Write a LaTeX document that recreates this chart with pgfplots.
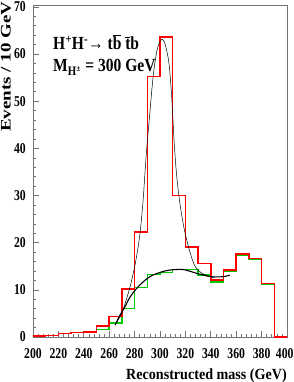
\documentclass[border=0pt]{standalone}
\usepackage{fontspec}
\setmainfont{Liberation Serif}
\newfontfamily\tickfont{Liberation Serif}[FakeStretch=0.78]
\newfontfamily\xlabfont{Liberation Serif}[FakeStretch=0.91]
\newfontfamily\ylabfont{Liberation Serif}[FakeStretch=1.3]
\newfontfamily\txtfont{Liberation Serif}[FakeStretch=0.84]
\usepackage{pgfplots}
\pgfplotsset{compat=1.18}
\definecolor{hgreen}{RGB}{0,200,0}
\definecolor{hred}{RGB}{255,0,0}
\begin{document}
\begin{tikzpicture}
\begin{axis}[name=ax, scale only axis, width=254pt, height=331.5pt,
  xmin=200, xmax=400, ymin=0, ymax=70.3, clip=false,
  xtick={200,220,240,260,280,300,320,340,360,380,400},
  xticklabels={200,220,240,260,280,300,320,340,360,380,{\hspace*{-4.5pt}400}},
  ytick={0,10,...,70},
  minor x tick num=4, minor y tick num=4,
  tick pos=left, tick align=inside,
  major tick length=6pt, minor tick length=3pt,
  axis line style={black!55, line width=0.8pt},
  tick style={black!55, line width=0.6pt},
  /pgf/number format/assume math mode=true,
  ticklabel style={font=\tickfont\bfseries\fontsize{15pt}{15pt}\selectfont},
  xticklabel style={anchor=north, inner sep=0pt, yshift=-11pt},
  yticklabel style={anchor=east, inner sep=0pt, xshift=-7pt},
]
% green histogram
\addplot[const plot mark left, draw=hgreen, line width=1.5pt] coordinates {
(250,1.6)(260,3.0)(270,6.0)(280,10.5)(290,13.3)(300,13.7)(310,14.3)(320,14.3)
(330,13.1)(340,11.7)(350,13.9)(360,17.3)(370,16.4)(380,11.1)(390,0)};
% red histogram
\addplot[const plot mark left, draw=hred, line width=1.5pt] coordinates {
(200,0.2)(210,0.3)(220,0.7)(230,1.0)(240,1.1)(250,2.3)(260,4.3)(270,10.2)
(280,22.3)(290,55.2)(300,63.6)(310,30.0)(320,19.1)(330,15.6)(340,12.1)
(350,14.2)(360,17.6)(370,16.6)(380,11.3)(390,0)(400,0)};
% signal + background fit
\addplot[smooth, black, line width=0.5pt] coordinates {
(264.6,2.5)(267,3.6)(269.8,5.0)(273,7.5)(276.4,10.6)(279.5,14.2)(282,17.8)
(284.3,22)(286.7,29)(289,38)(291.5,46)(294.7,55.5)(297.5,60.6)(300,62.7)
(301.8,63.1)(303.5,62.5)(305.5,60.5)(307.3,57.5)(309.2,51)(311,42)(312.7,35.5)
(314.4,31)(316.7,26.5)(319,23)(321.3,20.3)(323.6,18)(325.6,16.3)(327.6,15)
(330,14.2)(333,13.5)(336,13.1)(339.4,12.8)(343,12.6)};
% background fit
\addplot[smooth, black, line width=1.1pt] coordinates {
(264.6,2.5)(268,4.4)(272.4,6.4)(276,8.3)(280.3,9.9)(286,11.5)(292.1,12.8)
(300,13.7)(307.9,14.2)(318.3,14.3)(328.9,13.5)(336,13.0)(342,12.75)
(349.9,12.8)(355,13.1)};
\end{axis}
\node[rotate=90, anchor=base west, inner sep=0pt,
  font=\ylabfont\bfseries\fontsize{14.6pt}{14.6pt}\selectfont]
  at ([xshift=-22.3pt,yshift=205pt]ax.south west) {Events / 10 GeV};
\node[anchor=base east, inner sep=0pt,
  font=\xlabfont\bfseries\fontsize{15.5pt}{15.5pt}\selectfont]
  at ([yshift=-42.5pt]ax.south east) {Reconstructed mass (GeV)};
\node[anchor=base west, inner sep=0pt,
  font=\txtfont\bfseries\fontsize{18.5pt}{18.5pt}\selectfont]
  at ([xshift=20pt,yshift=-44pt]ax.north west)
  {H\textsuperscript{+}H\textsuperscript{-}→ t$\overline{\mbox{b}}$ $\overline{\mbox{t}}$b};
\node[anchor=base west, inner sep=0pt,
  font=\txtfont\bfseries\fontsize{18.5pt}{18.5pt}\selectfont]
  at ([xshift=20pt,yshift=-66.5pt]ax.north west)
  {M\textsubscript{H\textsuperscript{±}} = 300 GeV};
\pgfresetboundingbox
\path[use as bounding box] ([xshift=-33pt,yshift=-45pt]ax.south west)
  rectangle ([xshift=7pt,yshift=5.5pt]ax.north east);
\end{tikzpicture}
\end{document}
